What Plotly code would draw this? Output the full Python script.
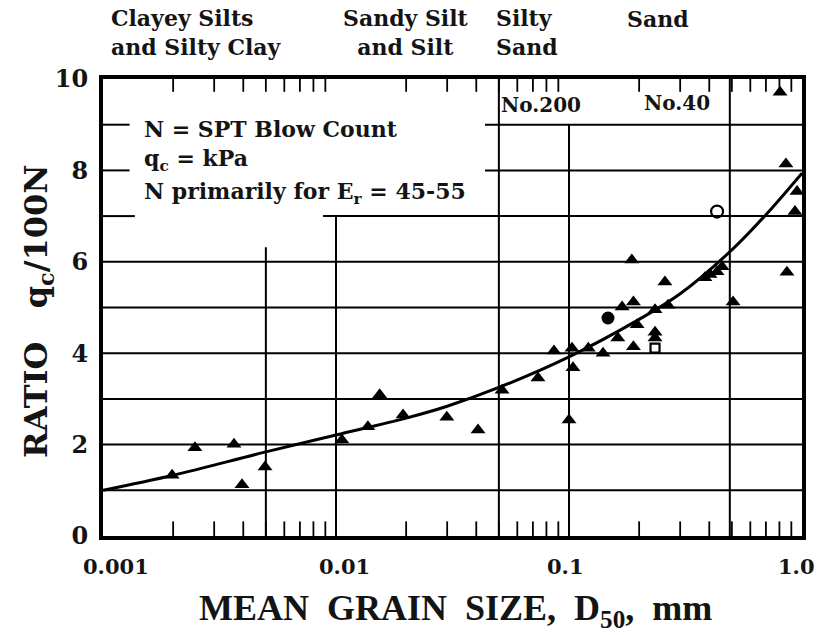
import plotly.graph_objects as go

# ---------------- data ----------------
tri_x = [0.00198, 0.00248, 0.00365, 0.00395, 0.00496, 0.0106, 0.0137, 0.0154, 0.0194,
         0.0299, 0.0407, 0.0516, 0.0736, 0.0862, 0.100, 0.104, 0.103, 0.121, 0.140,
         0.162, 0.169, 0.189, 0.186, 0.189, 0.196, 0.234, 0.234, 0.234, 0.258, 0.266,
         0.383, 0.403, 0.432, 0.454, 0.506, 0.805, 0.853, 0.952, 0.933, 0.862]
tri_y = [1.33, 1.93, 2.01, 1.12, 1.51, 2.10, 2.39, 3.09, 2.65,
         2.60, 2.32, 3.19, 3.46, 4.05, 2.54, 3.68, 4.11, 4.11, 4.00,
         4.33, 5.01, 5.12, 6.04, 4.14, 4.62, 4.95, 4.46, 4.33, 5.56, 5.05,
         5.65, 5.72, 5.78, 5.89, 5.12, 9.71, 8.14, 7.54, 7.10, 5.77]
dot_x = [0.147]
dot_y = [4.77]
ring_x = [0.432]
ring_y = [7.10]
sq_x = [0.234]
sq_y = [4.11]
fit_x = [0.001, 0.002, 0.005, 0.01, 0.02, 0.03, 0.05, 0.1, 0.2, 0.3, 0.5, 0.7, 1.0]
fit_y = [1.00, 1.33, 1.84, 2.21, 2.58, 2.84, 3.25, 3.92, 4.74, 5.30, 6.26, 7.03, 7.94]
x_tickvals = [0.001, 0.01, 0.1, 1.0]
x_ticktext = ["0.001", "0.01", "0.1", "1.0"]
y_tickvals = [0, 2, 4, 6, 8, 10]

# ---------------- layout helpers ----------------
L, R, T, B = 103, 802, 79, 536
W, H = 829, 635
def px(x):
    return (x - L) / (R - L)
def py(y):
    return (B - y) / (B - T)

SERIF = "DejaVu Serif"
TXT = "#141414"

fig = go.Figure()

# grid segments (drawn as line traces in data space)
gx, gy = [], []
def hseg(y, x0, x1):
    gx.extend([x0, x1, None]); gy.extend([y, y, None])
def vseg(x, y0, y1):
    gx.extend([x, x, None]); gy.extend([y0, y1, None])

for yv in [1, 2, 3, 4, 5, 6]:
    hseg(yv, 0.001, 1.0)
hseg(7, 0.001, 0.00137); hseg(7, 0.0088, 1.0)
for yv in [8, 9]:
    hseg(yv, 0.001, 0.0013); hseg(yv, 0.0436, 1.0)
vseg(0.005, 0, 6.32)
vseg(0.01, 0, 7)
vseg(0.05, 0, 10)
vseg(0.1, 0, 9)
vseg(0.49, 0, 10)
fig.add_trace(go.Scatter(x=gx, y=gy, mode="lines", line=dict(color="black", width=2),
                         hoverinfo="skip", showlegend=False))

tx, ty = [], []
for dec in [0.001, 0.01, 0.1]:
    for m in range(2, 10):
        xv = dec * m
        tx.extend([xv, xv, None, xv, xv, None])
        ty.extend([0, 0.32, None, 10, 9.72, None])
fig.add_trace(go.Scatter(x=tx, y=ty, mode="lines", line=dict(color="black", width=1.8),
                         hoverinfo="skip", showlegend=False))

fig.add_trace(go.Scatter(x=fit_x, y=fit_y, mode="lines",
                         line=dict(color="black", width=3, shape="spline", smoothing=1.0),
                         hoverinfo="skip", showlegend=False))
fig.add_trace(go.Scatter(x=tri_x, y=tri_y, mode="markers",
                         marker=dict(symbol="triangle-up", size=13, color="black"), showlegend=False))
fig.add_trace(go.Scatter(x=dot_x, y=dot_y, mode="markers",
                         marker=dict(symbol="circle", size=13, color="black"), showlegend=False))
fig.add_trace(go.Scatter(x=ring_x, y=ring_y, mode="markers",
                         marker=dict(symbol="circle-open", size=12, color="black", line=dict(width=2.2)),
                         showlegend=False))
fig.add_trace(go.Scatter(x=sq_x, y=sq_y, mode="markers",
                         marker=dict(symbol="square-open", size=9, color="black", line=dict(width=2.2)),
                         showlegend=False))

ann = []
def text(x, y, s, size=22, xanchor="left", align="left", font=SERIF, angle=0):
    ann.append(dict(xref="paper", yref="paper", x=px(x), y=py(y), text=s, showarrow=False,
                    xanchor=xanchor, yanchor="middle", align=align, textangle=angle,
                    font=dict(family=font, size=size, color=TXT, weight="bold")))

text(109, 33, "Clayey Silts<br>and Silty Clay")
text(406, 33, "Sandy Silt<br>and Silt", xanchor="center", align="center")
text(494, 33, "Silty<br>Sand")
text(625, 19, "Sand")
text(499, 105, "No.200", size=20)
text(642, 103, "No.40", size=20)
text(142, 129, "N = SPT Blow Count")
text(142, 160, "q<sub>c</sub> = kPa")
text(142, 193, "N primarily for E<sub>r</sub> = 45-55")
text(38, 311, "RATIO\u00a0\u00a0 q<sub>c</sub>/100N", size=32, xanchor="center", align="center", angle=-90)
text(455, 610, "MEAN\u00a0\u00a0GRAIN\u00a0\u00a0SIZE,\u00a0\u00a0D<sub>50</sub>,\u00a0\u00a0mm", size=36,
     xanchor="center", align="center", font="Liberation Serif")
for xc, lab in zip([116, 344, 565, 796], x_ticktext):
    text(xc, 566, lab, size=21, xanchor="center", align="center")

fig.update_layout(
    width=W, height=H,
    margin=dict(l=L, r=W - R, t=T, b=H - B),
    paper_bgcolor="white", plot_bgcolor="white",
    annotations=ann,
    xaxis=dict(type="log", range=[-3, 0], showgrid=False, zeroline=False,
               showline=True, linewidth=4, linecolor="black", mirror=True,
               tickvals=x_tickvals, showticklabels=False, ticks=""),
    yaxis=dict(range=[0, 10], showgrid=False, zeroline=False,
               showline=True, linewidth=4, linecolor="black", mirror=True,
               tickvals=y_tickvals, ticks="",
               tickfont=dict(family=SERIF, size=24, color=TXT, weight="bold"),
               ticklabelstandoff=6),
)

fig.write_html("out.html", config={"displayModeBar": False},
               post_script="document.body.style.margin='0px';")
